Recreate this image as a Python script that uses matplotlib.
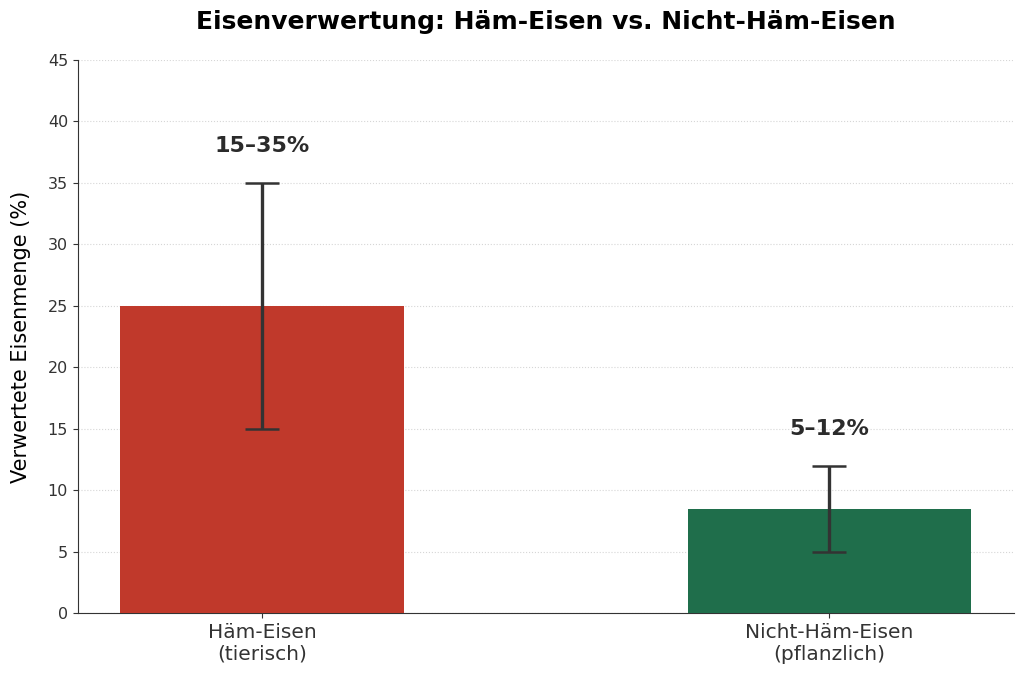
import matplotlib
matplotlib.use("Agg")
import matplotlib.pyplot as plt
import numpy as np

categories = ["Häm-Eisen\n(tierisch)", "Nicht-Häm-Eisen\n(pflanzlich)"]
means = [25, 8.5]
lows = [15, 5]
highs = [35, 12]
labels = ["15–35%", "5–12%"]
colors = ["#c0392b", "#1f6e4b"]

fig, ax = plt.subplots(figsize=(10.24, 6.79), dpi=100)
x = np.arange(len(categories))
yerr = [np.array(means) - np.array(lows), np.array(highs) - np.array(means)]
ax.bar(x, means, width=0.5, color=colors, yerr=yerr, capsize=12,
       error_kw=dict(ecolor="#333333", elinewidth=2.4, capthick=1.8), zorder=3)
for xi, hi, lab in zip(x, highs, labels):
    ax.text(xi, hi + 3, lab, ha="center", va="center", fontsize=16,
            fontweight="bold", color="#2b2b2b")
ax.set_xticks(x)
ax.set_xticklabels(categories, fontsize=14.5)
ax.set_ylim(0, 45)
ax.set_yticks(range(0, 46, 5))
ax.tick_params(axis="y", labelsize=11.5)
ax.tick_params(colors="#333333")
ax.set_ylabel("Verwertete Eisenmenge (%)", fontsize=15, labelpad=12)
ax.set_title("Eisenverwertung: Häm-Eisen vs. Nicht-Häm-Eisen", fontsize=18,
             fontweight="bold", pad=22)
ax.grid(axis="y", linestyle=":", color="#cccccc", alpha=0.8, zorder=0)
ax.spines["top"].set_visible(False)
ax.spines["right"].set_visible(False)
for s in ("left", "bottom"):
    ax.spines[s].set_color("#333333")
fig.subplots_adjust(left=0.076, right=0.99, top=0.912, bottom=0.097)
fig.savefig("out.png", dpi=100)
